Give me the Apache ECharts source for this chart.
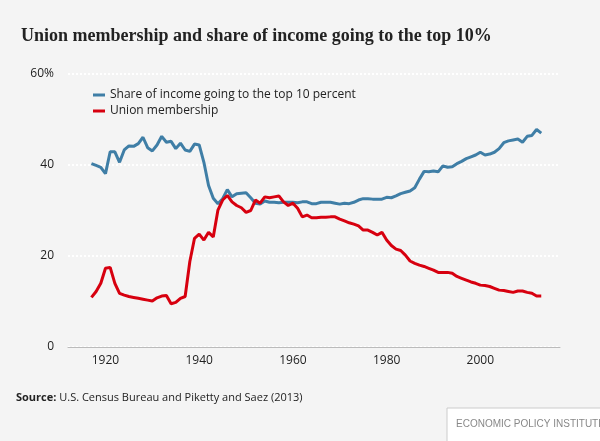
<!DOCTYPE html>
<html><head><meta charset="utf-8">
<script src="https://cdn.jsdelivr.net/npm/echarts@6/dist/echarts.min.js"></script>
<style>body{margin:0;background:#f4f4f4}#c{width:600px;height:441px}</style>
</head><body><div id="c"></div>
<script>
const years = [];
for (let y = 1917; y <= 2013; y++) years.push(y);
const topShare = [
  40.3,39.9,39.5,38.1,42.9,42.9,40.6,43.3,44.2,44.1,
  44.7,46.1,43.8,43.1,44.4,46.3,45.0,45.2,43.6,44.8,
  43.3,43.0,44.6,44.4,40.6,35.5,32.7,31.5,32.6,34.6,
  33.0,33.7,33.8,33.9,32.8,31.6,31.4,32.1,31.8,31.8,
  31.7,31.8,31.8,31.8,31.7,31.9,31.9,31.5,31.5,31.8,
  31.8,31.8,31.6,31.4,31.6,31.5,31.8,32.3,32.6,32.6,
  32.5,32.5,32.5,32.9,32.8,33.2,33.7,34.0,34.3,35.0,
  36.9,38.6,38.5,38.7,38.5,39.8,39.5,39.6,40.3,40.8,
  41.4,41.8,42.2,42.8,42.2,42.4,42.8,43.6,44.9,45.3,
  45.5,45.7,45.0,46.3,46.5,47.8,47.0];
const union = [10.9,12.2,14.0,17.3,17.5,14.0,11.8,11.4,11.1,10.9,10.7,10.5,10.3,10.1,10.8,11.2,11.3,9.5,9.8,10.7,11.1,18.8,23.9,24.8,23.5,25.2,24.2,30.1,32.3,33.3,31.9,31.1,30.6,29.6,30.0,32.3,31.6,33.0,32.8,33.0,33.2,31.9,31.1,31.6,30.5,28.6,29.0,28.4,28.4,28.5,28.5,28.6,28.6,28.1,27.7,27.3,27.0,26.6,25.7,25.7,25.2,24.6,25.2,23.5,22.3,21.5,21.2,20.2,18.9,18.4,18.0,17.7,17.3,16.9,16.4,16.4,16.4,16.2,15.5,15.1,14.7,14.3,14.0,13.6,13.5,13.3,12.9,12.5,12.4,12.2,12.0,12.3,12.3,12.0,11.8,11.2,11.2];

const chart = echarts.init(document.getElementById('c'));
chart.setOption({
  backgroundColor: '#f4f4f4',
  animation: false,
  title: {
    text: 'Union membership and share of income going to the top 10%',
    left: 16, top: 22,
    textStyle: {fontFamily: 'Liberation Serif', fontWeight: 'bold', fontSize: 18, color: '#222'}
  },
  legend: {
    left: 88, top: 84, orient: 'vertical', itemGap: 4,
    itemWidth: 12, itemHeight: 3, icon: 'rect',
    textStyle: {fontFamily: 'Open Sans', fontSize: 12, color: '#222'}
  },
  grid: {left: 68, right: 40, top: 74, bottom: 94},
  xAxis: {
    type: 'value', min: 1912, max: 2017, interval: 4,
    axisLine: {lineStyle: {color: '#bbb', width: 1}},
    axisTick: {show: false}, splitLine: {show: false},
    axisLabel: {
      formatter: v => (v % 20 === 0 ? String(v) : ''),
      fontFamily: 'Open Sans', fontSize: 12, color: '#222', margin: 8
    }
  },
  yAxis: {
    type: 'value', min: 0, max: 60, interval: 20,
    axisLine: {show: false}, axisTick: {show: false},
    splitLine: {lineStyle: {color: '#fff', type: 'dotted', width: 2}},
    axisLabel: {
      formatter: v => (v === 60 ? '60%' : String(v)),
      fontFamily: 'Open Sans', fontSize: 12, color: '#222', margin: 14
    }
  },
  series: [
    {name: 'Share of income going to the top 10 percent', type: 'line', showSymbol: false,
      data: years.map((y, i) => [y, topShare[i]]), lineStyle: {width: 3, color: '#3f7ea6'}, itemStyle: {color: '#3f7ea6'}},
    {name: 'Union membership', type: 'line', showSymbol: false,
      data: years.map((y, i) => [y, union[i]]), lineStyle: {width: 3, color: '#d7000f'}, itemStyle: {color: '#d7000f'}}
  ],
  graphic: [
    {type: 'text', left: 16, top: 392, style: {
      text: '{b|Source:} U.S. Census Bureau and Piketty and Saez (2013)',
      rich: {b: {fontWeight: 'bold', fontFamily: 'Open Sans', fontSize: 11, fill: '#222'}},
      fontFamily: 'Open Sans', fontSize: 11, fill: '#222'}},
    {type: 'rect', shape: {x: 447, y: 408, width: 160, height: 40},
      style: {fill: '#fff', stroke: '#ccc', lineWidth: 1}},
    {type: 'text', left: 456, top: 419, style: {
      text: 'ECONOMIC POLICY INSTITUTE', fontFamily: 'Liberation Sans', fontSize: 10, fill: '#888'}}
  ]
});
</script></body></html>
